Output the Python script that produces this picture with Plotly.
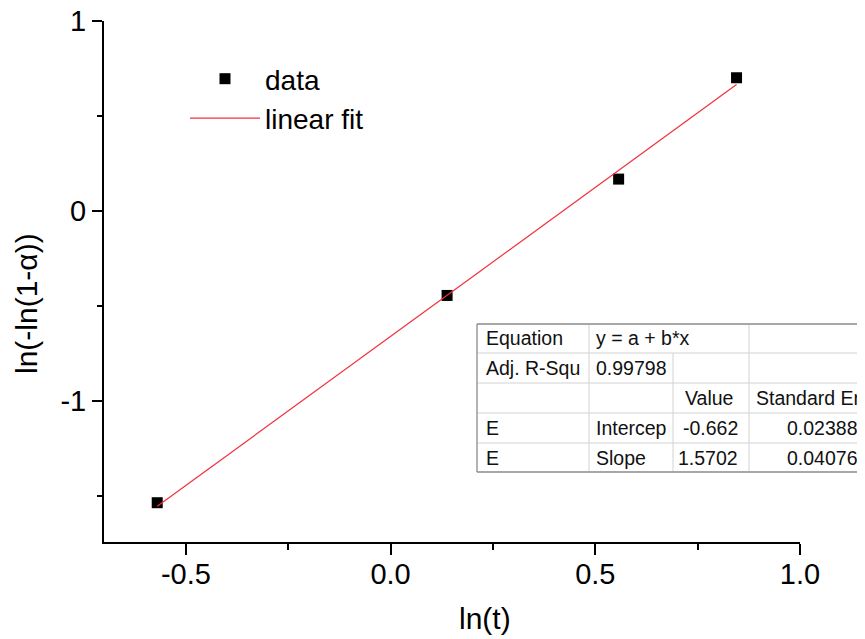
import plotly.graph_objects as go

# ---- data ----
x_data = [-0.570, 0.138, 0.557, 0.845]
y_data = [-1.538, -0.446, 0.167, 0.701]
fit_x = [-0.570, 0.845]
fit_y = [-1.557, 0.665]

legend_names = ["data", "linear fit"]
x_title = "ln(t)"
y_title = "ln(-ln(1-α))"
x_ticks = [-0.5, 0.0, 0.5, 1.0]
x_ticklabels = ["-0.5", "0.0", "0.5", "1.0"]
y_ticks = [-1, 0, 1]
y_ticklabels = ["-1", "0", "1"]

table_col1 = ["Equation", "Adj. R-Squ", "", "E", "E"]
table_col2 = ["y = a + b*x", "0.99798", "", "Intercep", "Slope"]
table_col3 = ["", "", "Value", "-0.662", "1.5702"]
table_col4 = ["", "", "Standard Er", "0.02388", "0.04076"]

# ---- layout geometry (page pixels; page body has an 8px margin) ----
OFF = 8
W, H = 857, 631
ML, MR, MT, MB = 96, 65, 13, 97
PW, PH = W - ML - MR, H - MT - MB
FONT = "Liberation Sans, Arial, sans-serif"


def px(x):
    return (x - OFF - ML) / PW


def py(y):
    return (H - MB - (y - OFF)) / PH


fig = go.Figure()
fig.add_trace(go.Scatter(
    x=x_data, y=y_data, mode="markers", name=legend_names[0],
    marker=dict(symbol="square", size=11, color="black", line=dict(width=0)),
))
fig.add_trace(go.Scatter(
    x=fit_x, y=fit_y, mode="lines", name=legend_names[1],
    line=dict(color="#f2303c", width=1.2),
))

shapes = []
annotations = []

# table geometry
t_left, t_right = 477, 880
row_y = [324, 353, 383, 413, 443, 472]
col_x = [477, 589, 673, 749]
inner = "#d2d2d2"
outer = "#8a8a8a"

shapes.append(dict(type="rect", xref="paper", yref="paper",
                   x0=px(t_left), x1=px(t_right), y0=py(row_y[-1]), y1=py(row_y[0]),
                   fillcolor="white", line=dict(width=0), layer="above"))
for yy in row_y[1:-1]:
    shapes.append(dict(type="line", xref="paper", yref="paper",
                       x0=px(t_left), x1=px(t_right), y0=py(yy), y1=py(yy),
                       line=dict(color=inner, width=1), layer="above"))
for xx in [col_x[1], col_x[3]]:
    shapes.append(dict(type="line", xref="paper", yref="paper",
                       x0=px(xx), x1=px(xx), y0=py(row_y[-1]), y1=py(row_y[0]),
                       line=dict(color=inner, width=1), layer="above"))
shapes.append(dict(type="line", xref="paper", yref="paper",
                   x0=px(col_x[2]), x1=px(col_x[2]), y0=py(row_y[-1]), y1=py(row_y[1]),
                   line=dict(color=inner, width=1), layer="above"))
for yy in [row_y[0], row_y[-1]]:
    shapes.append(dict(type="line", xref="paper", yref="paper",
                       x0=px(t_left), x1=px(t_right), y0=py(yy), y1=py(yy),
                       line=dict(color=outer, width=1.3), layer="above"))
shapes.append(dict(type="line", xref="paper", yref="paper",
                   x0=px(t_left), x1=px(t_left), y0=py(row_y[-1]), y1=py(row_y[0]),
                   line=dict(color=outer, width=1.3), layer="above"))

tfont = dict(family=FONT, size=19.5, color="#111111")
for i in range(5):
    yc = py((row_y[i] + row_y[i + 1]) / 2)
    if table_col1[i]:
        annotations.append(dict(xref="paper", yref="paper", x=px(484), y=yc, text=table_col1[i],
                                showarrow=False, xanchor="left", yanchor="middle", font=tfont))
    if table_col2[i]:
        annotations.append(dict(xref="paper", yref="paper", x=px(594), y=yc, text=table_col2[i],
                                showarrow=False, xanchor="left", yanchor="middle", font=tfont))
    if table_col3[i]:
        if i == 2:
            annotations.append(dict(xref="paper", yref="paper", x=px(709), y=yc, text=table_col3[i],
                                    showarrow=False, xanchor="center", yanchor="middle", font=tfont))
        else:
            annotations.append(dict(xref="paper", yref="paper", x=px(740), y=yc, text=table_col3[i],
                                    showarrow=False, xanchor="right", yanchor="middle", font=tfont))
    if table_col4[i]:
        if i == 2:
            annotations.append(dict(xref="paper", yref="paper", x=px(754), y=yc, text=table_col4[i],
                                    showarrow=False, xanchor="left", yanchor="middle", font=tfont))
        else:
            annotations.append(dict(xref="paper", yref="paper", x=px(860), y=yc, text=table_col4[i],
                                    showarrow=False, xanchor="right", yanchor="middle", font=tfont))

# axis titles
annotations.append(dict(xref="paper", yref="paper", x=px(485), y=py(619), text=x_title,
                        showarrow=False, xanchor="center", yanchor="middle",
                        font=dict(family=FONT, size=30, color="black")))
annotations.append(dict(xref="paper", yref="paper", x=px(26), y=py(304), text=y_title,
                        showarrow=False, xanchor="center", yanchor="middle", textangle=-90,
                        font=dict(family=FONT, size=30, color="black")))

fig.update_layout(
    width=W, height=H,
    margin=dict(l=ML, r=MR, t=MT, b=MB),
    paper_bgcolor="white", plot_bgcolor="white",
    font=dict(family=FONT, color="black"),
    shapes=shapes, annotations=annotations,
    showlegend=True,
    legend=dict(x=px(185), y=py(54), xanchor="left", yanchor="top",
                bgcolor="rgba(0,0,0,0)", font=dict(family=FONT, size=28),
                itemwidth=70, tracegroupgap=0),
    xaxis=dict(range=[-0.7, 1.0], tickvals=x_ticks, ticktext=x_ticklabels,
               automargin=False,
               showgrid=False, zeroline=False, showline=True, linecolor="black", linewidth=2,
               ticks="outside", ticklen=11, tickwidth=2, tickcolor="black",
               tickfont=dict(family=FONT, size=29), ticklabelstandoff=-6,
               ticklabeloverflow="allow",
               minor=dict(tickvals=[-0.25, 0.25, 0.75], ticks="outside", ticklen=6,
                          tickwidth=2, tickcolor="black", showgrid=False)),
    yaxis=dict(range=[-1.745, 1.0], tickvals=y_ticks, ticktext=y_ticklabels,
               automargin=False,
               showgrid=False, zeroline=False, showline=True, linecolor="black", linewidth=2,
               ticks="outside", ticklen=10, tickwidth=2, tickcolor="black",
               tickfont=dict(family=FONT, size=29), ticklabeloverflow="allow",
               minor=dict(tickvals=[-1.5, -0.5, 0.5], ticks="outside", ticklen=5,
                          tickwidth=2, tickcolor="black", showgrid=False)),
)

fig.write_html("out.html")
